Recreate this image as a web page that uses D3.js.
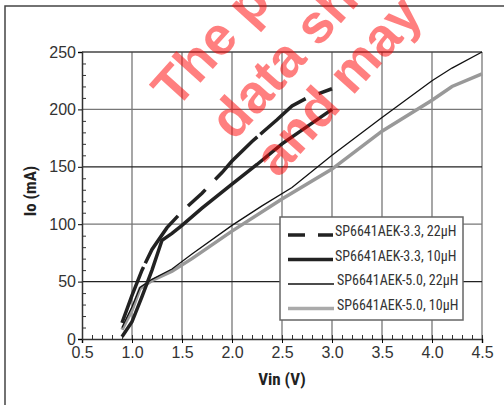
<!DOCTYPE html>
<html>
<head>
<meta charset="utf-8">
<script src="https://cdn.jsdelivr.net/npm/d3@7"></script>
<style>
  body { margin: 0; background: #fff; }
  text { font-family: "Liberation Sans Narrow", "Arial Narrow", "Roboto Condensed", sans-serif; }
</style>
</head>
<body>
<div id="graph"></div>
<script>
// Vin (V) vs Io (mA)
var seriesNames = ["SP6641AEK-3.3, 22\u03bcH", "SP6641AEK-3.3, 10\u03bcH", "SP6641AEK-5.0, 22\u03bcH", "SP6641AEK-5.0, 10\u03bcH"];
var vin33_22 = [0.9, 1.0, 1.1, 1.2, 1.35, 1.5, 1.7, 1.9, 2.0, 2.2, 2.45, 2.6, 2.75, 3.0];
var io33_22  = [14, 38, 60, 78, 97, 111, 127, 145, 155, 172, 191, 203, 210, 218];
var vin33_10 = [0.9, 1.0, 1.1, 1.2, 1.3, 1.4, 1.5, 1.7, 2.0, 2.25, 2.5, 2.75, 3.0];
var io33_10  = [2, 15, 37, 60, 86, 92, 99, 114, 135, 152, 170, 185, 200];
var vin50_22 = [0.9, 1.0, 1.08, 1.2, 1.4, 1.6, 2.0, 2.3, 2.6, 3.0, 3.5, 4.0, 4.2, 4.5];
var io50_22  = [10, 28, 45, 52, 61, 74, 99, 116, 132, 160, 193, 225, 236, 250];
var vin50_10 = [0.9, 1.0, 1.08, 1.2, 1.4, 1.6, 2.0, 2.5, 3.0, 3.5, 4.0, 4.2, 4.5];
var io50_10  = [8, 25, 44, 51, 59, 70, 94, 122, 148, 181, 208, 220, 231];
var xTicks = [0.5, 1.0, 1.5, 2.0, 2.5, 3.0, 3.5, 4.0, 4.5];
var yTicks = [0, 50, 100, 150, 200, 250];
var watermark = ["The pr", "data sh", "and may"];

const W = 504, H = 405;
const margin = { top: 52, right: 22, bottom: 66, left: 82 };
const width = W - margin.left - margin.right;
const height = H - margin.top - margin.bottom;

const root = d3.select("#graph").append("svg")
    .attr("width", W)
    .attr("height", H);

// outer frame (runs off the right and bottom edges)
root.append("rect")
    .attr("x", 5).attr("y", 6)
    .attr("width", 600).attr("height", 500)
    .attr("fill", "none")
    .attr("stroke", "#444")
    .attr("stroke-width", 1.5);

const svg = root.append("g")
    .attr("transform", `translate(${margin.left}, ${margin.top})`);

const x = d3.scaleLinear().domain([0.5, 4.5]).range([0, width]);
const y = d3.scaleLinear().domain([0, 250]).range([height, 0]);

// grid
svg.selectAll(".vgrid").data(xTicks.slice(1)).enter().append("line")
    .attr("x1", d => x(d)).attr("x2", d => x(d))
    .attr("y1", 0).attr("y2", height)
    .attr("stroke", "#777").attr("stroke-width", 1.3);
svg.selectAll(".hgrid").data(yTicks.slice(1)).enter().append("line")
    .attr("x1", 0).attr("x2", width)
    .attr("y1", d => y(d)).attr("y2", d => y(d))
    .attr("stroke", d => d === 250 ? "#444" : (d % 100 === 0 ? "#777" : "#222"))
    .attr("stroke-width", d => d === 250 ? 1.6 : 1.2);

// axes
const fmt = d3.format(".1f");
svg.append("g")
    .attr("transform", `translate(0, ${height})`)
    .call(d3.axisBottom(x).tickValues(xTicks).tickFormat(fmt).tickSize(4).tickPadding(4))
    .call(g => g.select(".domain").attr("stroke", "#333").attr("stroke-width", 1.5))
    .call(g => g.selectAll("text").attr("font-size", 16).attr("fill", "#333")
        .style("font-family", "'Liberation Sans Narrow', 'Arial Narrow', sans-serif"));
svg.append("g")
    .attr("transform", `translate(0, ${height})`)
    .call(d3.axisTop(x).tickValues(d3.range(5, 46).map(d => d / 10)).tickFormat("").tickSize(4))
    .call(g => g.select(".domain").remove())
    .call(g => g.selectAll("line").attr("stroke", "#333"));

svg.append("g")
    .call(d3.axisLeft(y).tickValues(yTicks).tickSize(4).tickPadding(2))
    .call(g => g.select(".domain").attr("stroke", "#333").attr("stroke-width", 1.5))
    .call(g => g.selectAll("text").attr("font-size", 16).attr("fill", "#333")
        .style("font-family", "'Liberation Sans Narrow', 'Arial Narrow', sans-serif"));
svg.append("g")
    .call(d3.axisRight(y).tickValues(d3.range(10, 250, 10).filter(d => d % 50 !== 0)).tickFormat("").tickSize(4))
    .call(g => g.select(".domain").remove())
    .call(g => g.selectAll("line").attr("stroke", "#333"));

// curves
const line = d3.line()
    .x(d => x(d[0]))
    .y(d => y(d[1]));
const pairs = (xs, ys) => xs.map((v, i) => [v, ys[i]]);

const series = [
    { pts: pairs(vin50_10, io50_10), color: "#999", w: 3.5, dash: null },
    { pts: pairs(vin50_22, io50_22), color: "#111", w: 1.3, dash: null },
    { pts: pairs(vin33_10, io33_10), color: "#222", w: 3.5, dash: null },
    { pts: pairs(vin33_22, io33_22), color: "#222", w: 3.5, dash: "60,4,58,14,24,14" }
];
series.forEach(s => {
    svg.append("path")
        .datum(s.pts)
        .attr("fill", "none")
        .attr("stroke", s.color)
        .attr("stroke-width", s.w)
        .attr("stroke-dasharray", s.dash)
        .attr("d", line);
});

// legend
const lg = root.append("g").attr("transform", "translate(280, 217)");
lg.append("rect")
    .attr("width", 183).attr("height", 103)
    .attr("fill", "#fff")
    .attr("stroke", "#666").attr("stroke-width", 1.5);
const legendStyle = [
    { color: "#222", w: 3.5, dash: "17,13" },
    { color: "#222", w: 3.5, dash: null },
    { color: "#111", w: 1.3, dash: null },
    { color: "#aaa", w: 3.5, dash: null }
];
seriesNames.forEach((name, i) => {
    const ly = 18 + i * 24.5;
    lg.append("line")
        .attr("x1", 8).attr("x2", i < 2 ? 53 : 54)
        .attr("y1", ly).attr("y2", ly)
        .attr("stroke", legendStyle[i].color)
        .attr("stroke-width", legendStyle[i].w)
        .attr("stroke-dasharray", legendStyle[i].dash);
    lg.append("text")
        .attr("x", i < 2 ? 55 : 57).attr("y", ly + 1)
        .attr("font-size", 14)
        .attr("fill", "#333")
        .text(name);
});

// axis labels
root.append("text")
    .attr("x", margin.left + width / 2).attr("y", 385)
    .attr("text-anchor", "middle")
    .attr("font-size", 17).attr("font-weight", "bold")
    .attr("fill", "#222")
    .text("Vin (V)");
root.append("text")
    .attr("transform", "translate(36, 191) rotate(-90)")
    .attr("text-anchor", "middle")
    .attr("font-size", 17).attr("font-weight", "bold")
    .attr("fill", "#222")
    .text("Io (mA)");

// red watermark
const wmPos = [[176, 110], [234, 142], [278, 179]];
watermark.forEach((t, i) => {
    root.append("text")
        .attr("transform", `translate(${wmPos[i][0]}, ${wmPos[i][1]}) rotate(-48)`)
        .style("font-family", "'Liberation Sans', Arial, sans-serif")
        .attr("font-size", 54).attr("font-weight", "bold")
        .attr("fill", "red").attr("fill-opacity", 0.5)
        .text(t);
});
</script>
</body>
</html>
